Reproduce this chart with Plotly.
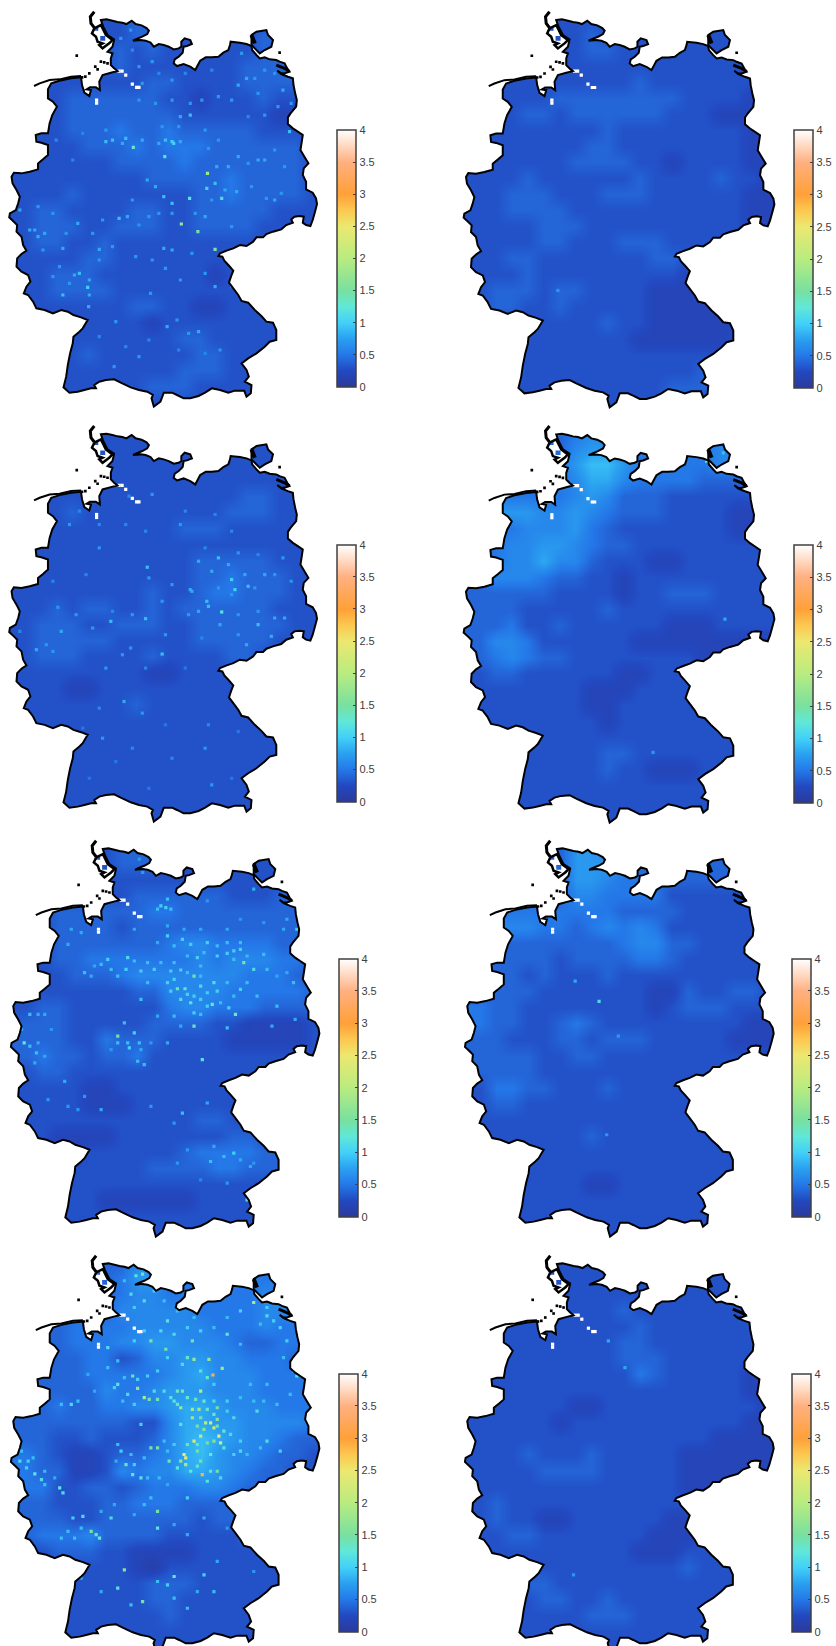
import plotly.graph_objects as go

W, H = 836, 1646
TICK_VALUES = [0, 0.5, 1, 1.5, 2, 2.5, 3, 3.5, 4]
TICK_LABELS = ["0", "0.5", "1", "1.5", "2", "2.5", "3", "3.5", "4"]
COLOR_STOPS = [(0, "#2b3a9a"), (0.0625, "#2348c0"), (0.125, "#2478e8"), (0.1875, "#2aa0f0"),
               (0.25, "#42d0f8"), (0.3125, "#60e8d8"), (0.375, "#78e0a0"), (0.5, "#b8ec80"),
               (0.625, "#ece870"), (0.6875, "#fcc850"), (0.75, "#ffa038"), (0.875, "#ffb080"),
               (0.9375, "#ffd8c0"), (1, "#ffffff")]

# Grid centres, in the map's own units
GRID_X = [27, 75, 123, 171, 219, 267, 315, 363, 411, 459, 507, 555, 603, 651, 699, 747, 795, 843, 891, 939]
GRID_Y = [54, 102, 150, 198, 246, 294, 342, 390, 438, 486, 534, 582, 630, 678, 726, 774, 822, 870, 918, 966,
          1014, 1062, 1110, 1158, 1206]

# Broad field per panel: one hex digit per cell, in tenths
P1 = ["33333333444333333333", "33333333444333334443", "33333334343333334443", "33333334333333344443",
      "33333333344333344443", "33334444443323334333", "33334444444333333222", "33334445445444443333",
      "33333444545554444443", "33333334444544444443", "33333333344444544443", "33334333333344544443",
      "33443333443344444333", "33444334443344443333", "33443343333333333333", "33333443333333333333",
      "33344433333332333333", "33344443333333333333", "33333333443322333333", "33333333323333333333",
      "33333333333443333333", "33333433333344333333", "33333333333444333333", "33333333344433333333",
      "33333333333333333333"]
P2 = ["33333333333333333333", "33333333433333333333", "33333333443333333333", "33333333333333333332",
      "33333333333433333332", "33333344444444333322", "33334434444443332222", "33333333343333333322",
      "33333333443333333322", "33333334444332333322", "33334333333433334332", "33344433344433333322",
      "33344443333333333322", "33333444333333333322", "33333443334443333333", "33344333333344333333",
      "33334333333333222222", "33444344333322222222", "33443343333322222222", "33333333343322222233",
      "33333333333222222333", "33333333333333333333", "33443333333333343333", "33333333333334443333",
      "33333333333333333333"]
P3 = ["33333333333333333333", "33333333333333333333", "33333333333333333333", "33333333333333333333",
      "33333333333333344333", "33334333333333444333", "33333333333444333333", "33333333333333333333",
      "33333333333344444333", "33333333333344544433", "33333333343345544433", "33343443343444444333",
      "33444334443344444433", "33444443333344444333", "33444333343333443333", "33333333322333333333",
      "33332233333333333333", "33333333433333333333", "33333333333333333333", "33333333333333333333",
      "33333333333333333333", "33333333333333333333", "33333333333333333333", "33333333333333333333",
      "33333333333333333333"]
P4 = ["44444445655555555566", "44444446776555556676", "44444457997555556676", "44444456886555544444",
      "44555556764443333333", "44777667654443333223", "44556667543333333223", "44566776544333333333",
      "44566866433322333333", "44666544332333333333", "44444433332334443333", "44443333343333333333",
      "44453343333332223333", "44665333333222222222", "44565443333333322222", "33443333332233333333",
      "33333333222333333333", "33333333223333333333", "33333333323333333333", "33333333333333333333",
      "33333333344333333333", "33333333343322233333", "33333333333333333333", "33333333333333333333",
      "33333333333333333333"]
P5 = ["33333334443333333333", "33333334443333333333", "33333333333333333333", "33333333444444333444",
      "33344444455444444444", "33344443444444444444", "33344444445665555443", "33344555555565666553",
      "33334445666666655543", "33333333446666555554", "33443333335665554444", "44443333344443322223",
      "44443354443333222223", "44544344533333333333", "33443333333333333333", "33333223333333333333",
      "33333222333333333333", "33333333333344333333", "33322223333333443333", "33322333333455554433",
      "33333333344445544433", "33333333333333333433", "33333322222233333333", "33333333333333333333",
      "33333333333333333333"]
P6 = ["44444447755555555555", "44444447776444444444", "44444447765544444444", "44444446655553333333",
      "44555555554444333333", "44666554565653333333", "44444444445664433333", "44444434444554333333",
      "44443433343333333333", "44444333333322433443", "55443333333323444333", "55443345433333333322",
      "44433344344433333222", "44444334433333333333", "44444333333333333333", "33554433343333333333",
      "33443333333333333333", "33333333333333333333", "33333333433333333333", "33333333333333333333",
      "33333333333333333333", "33333333223333333333", "33333333333333333333", "33333333333333333333",
      "33333333333333333333"]
P7 = ["44444444664444444444", "44444445775555555555", "44444445665555556655", "44444446666655556665",
      "44445555666665556555", "44445556677666544555", "44444553466776655544", "44444555556786665555",
      "44444465567776665555", "44454455667887666555", "44444444336887766665", "44433433346898766544",
      "55432234456897665443", "55442236566887654433", "55533443455566544433", "44433344555444444444",
      "44443344444434444444", "44555644443333344444", "33344433222233333333", "33333333213333333333",
      "33333333344433333333", "33333333344333333333", "33333333334333333333", "33333333333333333333",
      "33333333333333333333"]
P8 = ["33333333333333333333", "33333333333333333333", "33333333333333333333", "33333333334333333333",
      "33333333333433333333", "33333333334433333333", "33333333334443333333", "33333333333543333322",
      "33333333333333333322", "33333332233333333332", "33333323333333333322", "33333333333333332222",
      "33334333433333222222", "33333444433333222222", "33333333333333222222", "33433333333333333322",
      "33433223333332233333", "33344333333322233333", "33333333333222333333", "33333333333333433333",
      "33334433333333333333", "33333443343333333333", "33333333444333333333", "33333333333333333333",
      "33333333333333333333"]

# Single bright cells: (x, y, value)
S1 = [(627,520,1.8),(548,672,1.7),(598,695,1.5),(650,748,1.6),(403,442,1.3),(498,470,1.2),(520,425,1.0),(525,430,1.0),(320,425,.9),(340,420,.9),(380,415,.9),(265,862,1.0),(240,820,.9),(225,825,.8),(625,565,1.0),(650,550,.9),(670,595,1.1),(573,595,1.2),(495,590,.9),(520,610,.9),(470,560,.8),(445,540,.8),(360,655,.9),(385,650,.8),(105,690,.8),(90,690,.8),(115,710,.8),(190,885,.9),(270,885,.8),(268,920,.8),(520,750,.8),(495,745,.8),(300,748,.8),(190,745,.8),(600,995,.8),(505,980,.8),(665,1050,.7),(420,1070,.7),(345,1100,.7),(575,345,.9),(545,350,.8),(720,255,.8),(745,235,.8),(770,235,.7),(855,270,.8),(880,310,.7),(800,345,.7),(875,395,.9),(690,500,.8),(780,480,.8),(800,480,.8),(655,500,.8),(630,445,.7),(575,310,.7),(470,310,.7),(420,300,.7),(365,115,.7),(395,90,.7),(420,200,.7),(460,185,.7),(520,240,.7),(730,160,.7),(800,210,.7),(830,600,.8),(805,595,.7),(715,575,.8),(620,650,.8),(700,680,.7),(450,650,.7),(420,675,.7),(235,670,.8),(135,700,.8),(115,620,.7),(60,630,.8),(160,830,.7),(270,840,.8),(350,965,.7),(535,960,.7),(650,860,.8),(545,840,.7),(500,805,.7),(455,880,.7),
      (320,390,.7),(370,430,.8),(430,420,.8),(480,430,.8),(500,420,.9),(545,425,.8),(490,380,.7),(540,380,.7),(620,390,.7),(660,420,.7),(720,470,.8),(750,490,.7),(830,450,.7),(860,500,.7),(850,580,.7),(760,560,.7),(680,570,.8),(640,600,.7),(590,640,.7),(520,640,.7),(480,640,.7),(400,600,.7),(310,660,.7),(280,700,.7),(200,700,.7),(160,640,.7),(130,750,.7),(180,800,.7),(210,850,.7),(300,780,.7),(340,740,.7),(410,770,.7),(460,780,.7),(580,760,.7),(620,820,.7),(700,860,.6),(570,1000,.7),(620,1060,.6),(540,1050,.6),(450,1020,.6),(380,1040,.6),(300,1010,.6),(520,300,.7),(610,300,.7),(660,290,.7),(700,300,.7),(780,280,.7),(830,220,.7),(840,320,.7),(750,350,.6),(640,210,.6),(560,220,.6),(480,220,.6),(400,150,.6),(430,250,.7),(250,400,.6),(220,480,.6),(170,420,.6)]
S2 = [(310,870,.7)]
S3 = [(670,592,1.2),(630,575,.9),(625,560,.9),(700,495,1.0),(710,525,1.0),(750,515,.9),(660,430,.9),(445,458,.9),(575,525,.8),(335,620,.9),(440,612,.9),(185,650,.8),(110,705,.8),(490,718,.9),(375,860,.8),(830,610,.8),(780,630,.9),(745,690,.8),(665,630,.8),(820,665,.8),(545,330,.7),(600,440,.8),(720,415,.7),(800,480,.8),(860,610,.8),(855,430,.7),(240,290,.6),(300,400,.7),(210,330,.7),(175,578,.7),(400,600,.7),(395,700,.7),(320,760,.7),(430,895,.7),(310,970,.7),(620,1000,.7),(520,1030,.6),(640,1110,.7),(450,490,.7),(520,510,.7),(390,245,.6),(460,240,.7),(640,470,.8),(690,450,.8),(740,480,.8),(600,590,.8),(580,530,.8),(720,600,.7),
      (490,560,.7),(340,590,.6),(280,640,.7),(230,600,.7),(160,710,.7),(140,690,.7),(60,650,.6),(370,720,.7),(440,760,.6),(500,660,.7),(570,600,.7),(660,520,.7),(700,540,.7),(770,520,.7),(830,480,.7),(880,500,.7),(780,420,.6),(620,400,.6),(700,350,.6),(650,300,.6),(560,290,.6),(440,350,.6),(380,330,.6),(300,330,.6),(260,480,.6),(160,500,.6),(780,590,.7),(720,660,.7),(610,670,.6),(560,760,.5),(300,880,.6),(250,940,.5),(500,930,.5),(630,930,.6),(720,950,.5),(400,1000,.6),(700,1090,.5),(450,1120,.5),(350,1040,.5),(270,1090,.5)]
S4 = [(755,140,1.4),(810,612,.8),(595,1010,.7),(805,115,.9)]
S5 = [(580,440,1.5),(530,478,1.4),(553,478,1.2),(570,520,1.2),(580,590,1.4),(635,525,1.3),(705,555,1.3),(350,620,1.5),(68,640,1.3),(730,400,1.4),(760,420,1.1),(720,360,1.0),(700,365,1.0),(680,372,1.0),(620,340,1.0),(570,345,1.0),(545,330,1.0),(500,320,1.0),(590,385,1.0),(380,385,1.1),(320,390,1.0),(300,405,.9),(375,420,1.0),(420,425,1.0),(460,420,1.0),(510,425,1.0),(540,422,1.0),(600,440,.9),(640,460,1.1),(500,460,1.0),(510,485,1.0),(560,495,1.0),(580,500,1.0),(620,490,1.0),(650,485,1.0),(720,480,1.0),(770,500,.9),(600,555,.9),(685,535,1.0),(400,610,1.0),(385,655,1.0),(415,640,.9),(370,580,.9),(605,690,1.2),(410,695,.9),(430,705,.9),(105,670,.9),(85,650,.9),(300,840,.8),(140,810,.7),(190,755,.8),(700,970,1.0),(670,980,.9),(630,995,.9),(740,1110,1.1),(545,850,.9),(620,820,.8),(230,840,.7),(480,230,1.0),(495,235,1.0),(85,555,.9),(130,555,.8),(200,345,.8),(250,430,.9),(880,460,.9),(830,530,.9),(890,300,1.0),(885,570,.8),(815,590,.8),(680,595,.9),(750,1010,.8),(530,1000,.7),(425,130,.7),(415,90,.7),(760,180,.8),(620,215,.7),(500,290,.8),(680,300,.8),
      (330,420,.9),(350,440,.9),(280,410,.8),(270,440,.8),(400,395,.9),(440,400,.9),(480,400,.9),(520,400,.9),(560,380,.9),(610,370,.9),(650,380,1.0),(700,390,.9),(740,380,.9),(790,375,.9),(800,420,.9),(830,440,.8),(860,430,.8),(600,410,.9),(560,430,.9),(520,450,1.0),(600,470,1.1),(680,460,.9),(700,500,.9),(740,460,.9),(540,510,1.1),(600,510,1.0),(620,530,1.0),(660,520,.9),(580,550,1.0),(520,560,.9),(470,560,.8),(540,590,.8),(420,510,.9),(440,460,.9),(600,300,.8),(550,300,.8),(720,340,.9),(680,340,.9),(650,350,.9),(520,350,.9),(470,340,.8),(240,310,.8),(210,300,.8),(400,300,.8),(790,280,.7),(850,300,.8),(880,350,.8),(860,270,.8),(720,270,.7),(500,210,.9),(470,240,.9),(510,240,.9),(380,640,.9),(350,640,.9),(330,660,.7),(420,660,.8),(450,640,.7),(500,640,.8),(110,640,.8),(100,700,.8),(130,680,.8),(60,600,.8),(110,555,.8),(150,600,.7),(250,800,.7),(200,830,.7),(450,830,.7),(520,880,.7),(640,950,.8),(720,990,.8),(760,1000,.7),(560,960,.7),(600,1050,.6),(680,1060,.7)]
S6 = [(432,516,1.1),(360,455,.8),(490,620,.7),(455,915,.7)]
S7 = [(637,392,2.9),(605,690,2.9),(550,630,2.5),(555,640,2.4),(655,575,2.5),(580,590,2.3),(630,535,2.2),(640,550,2.1),(660,595,2.2),(615,535,2.0),(600,575,2.0),(540,490,1.8),(575,495,1.8),(595,495,1.8),(580,345,1.8),(625,345,1.7),(665,372,1.8),(545,440,1.6),(600,440,2.0),(430,460,1.9),(445,465,1.5),(470,465,1.4),(575,520,1.8),(530,480,1.4),(555,660,1.9),(540,650,1.7),(505,650,1.4),(650,680,1.5),(650,525,1.6),(760,175,1.9),(395,395,1.5),(410,432,1.7),(450,290,1.5),(495,315,1.4),(575,290,1.5),(680,270,1.3),(425,90,1.4),(405,95,1.2),(390,150,1.1),(430,170,1.1),(500,230,1.2),(470,610,1.5),(450,610,1.5),(375,660,1.4),(420,700,1.2),(395,690,1.2),(100,688,1.2),(120,705,1.1),(55,650,1.1),(80,650,1.0),(175,730,1.2),(185,745,1.1),(270,860,1.5),(285,870,1.4),(295,880,1.3),(245,815,1.1),(215,820,1.0),(470,800,1.5),(370,975,1.6),(350,1030,1.2),(425,1070,1.5),(520,995,1.3),(610,990,1.0),(640,1040,.9),(560,1090,.9),(470,850,1.2),(560,760,1.0),(330,820,1.1),(800,215,1.1),(840,250,1.0),(860,290,1.0),(890,395,1.2),(910,450,1.0),(770,500,1.1),(800,590,1.1),(720,620,1.1),(840,620,1.0),(210,480,1.1),(350,420,1.2),(320,310,1.1),(700,520,1.1),(680,500,1.0),(720,590,1.0),(380,450,1.1),(510,460,1.2),(540,540,1.2),(630,630,1.3),(590,620,1.4),(600,650,1.5),(560,600,1.4),(620,495,1.3),(650,490,1.5),(530,440,1.3),(520,470,1.2),(640,470,1.1),(420,540,1.0),(360,620,1.0),(720,740,.9),(240,1000,.8),(180,880,.9),
      (600,380,1.2),(620,400,1.3),(640,420,1.0),(560,340,1.3),(545,360,1.1),(500,340,1.0),(470,380,1.0),(440,395,1.0),(410,405,1.0),(370,400,.9),(340,430,1.0),(365,470,.9),(400,480,1.0),(460,440,1.1),(490,440,1.1),(560,460,1.3),(585,465,1.4),(610,470,1.3),(680,470,1.0),(720,460,.9),(760,470,.9),(790,470,.9),(830,480,.9),(870,450,.9),(600,520,1.5),(640,510,1.4),(590,545,1.5),(610,555,1.6),(650,545,1.5),(670,560,1.3),(690,570,1.1),(590,600,1.4),(620,595,1.5),(640,590,1.6),(670,610,1.2),(700,630,1.0),(740,630,.9),(780,610,.9),(520,600,1.0),(490,590,.9),(500,620,.9),(530,670,1.2),(570,680,1.3),(590,665,1.2),(630,680,1.2),(620,710,1.2),(660,700,1.1),(430,640,.9),(400,660,1.0),(390,630,.9),(350,600,.9),(345,650,.8),(440,700,.9),(475,700,.9),(500,720,.8),(430,780,.9),(450,760,.9),(400,810,.8),(340,780,.8),(300,800,.8),(200,860,.9),(220,880,.9),(240,850,.9),(130,680,.9),(75,670,1.0),(95,640,.9),(60,620,.9),(130,720,.9),(160,700,.8),(180,480,.9),(230,470,.9),(280,440,.8),(260,390,.8),(320,370,.9),(350,350,.9),(400,290,1.0),(430,260,1.0),(480,260,1.1),(520,270,1.1),(560,250,1.0),(600,260,1.0),(640,250,.9),(680,220,.9),(720,200,1.0),(800,190,1.0),(820,230,1.0),(780,240,.9),(720,300,.9),(850,340,.9),(880,380,1.1),(800,420,.9),(750,420,.9),(420,120,1.0),(370,110,.9),(400,190,1.0),(460,140,1.0),(490,170,.9),(530,200,.9),(580,220,.9),(500,1020,1.0),(520,1060,.9),(590,1040,.8),(470,1010,.9),(390,1080,.9),(300,1040,.8),(650,950,.8),(560,870,.8),(520,840,.8),(610,820,.8),(680,850,.7),(760,980,.7)]
S8 = [(355,990,.7),(510,370,.8),(460,290,.8)]
WHITE_CELLS = [(360,213),(369,213),(380,225),(400,252),(413,262),(420,262),(292,300),(292,309)]

# Outlines, in the map's own units
MAINLAND = [(305,60),(322,58),(340,62),(355,66),(370,68),(382,72),(398,62),(410,72),(428,76),(443,84),(450,92),(445,102),(430,110),(410,118),(402,122),(425,120),(440,122),(455,128),(465,140),(480,132),(495,135),(510,140),(525,148),(540,145),(548,140),(548,125),(558,115),(575,120),(580,132),(565,138),(555,140),(552,158),(540,170),(528,178),(525,190),(535,198),(555,192),(575,200),(590,210),(598,195),(605,182),(622,172),(640,172),(660,170),(675,158),(690,150),(695,135),(697,125),(725,128),(745,132),(760,138),(762,150),(775,165),(785,175),(800,172),(815,178),(835,180),(845,185),(860,190),(868,205),(875,215),(860,220),(850,220),(838,212),(850,222),(870,230),(885,235),(887,255),(892,280),(897,300),(895,320),(878,340),(870,352),(870,372),(885,385),(900,395),(915,405),(912,425),(908,450),(920,470),(932,490),(918,505),(915,525),(925,545),(925,568),(945,578),(955,595),(958,612),(952,635),(945,660),(938,678),(925,675),(915,668),(918,650),(905,648),(890,650),(880,658),(885,668),(865,675),(850,688),(825,695),(805,702),(795,712),(775,712),(765,725),(745,738),(725,735),(705,745),(685,752),(665,760),(660,768),(672,770),(678,782),(690,795),(705,812),(698,830),(692,848),(705,865),(720,885),(730,903),(750,908),(770,930),(790,948),(805,965),(825,968),(835,990),(835,1020),(815,1025),(800,1040),(775,1060),(750,1075),(730,1090),(745,1110),(752,1130),(740,1145),(760,1155),(758,1180),(745,1190),(738,1172),(710,1172),(690,1178),(665,1170),(640,1165),(620,1178),(600,1188),(575,1195),(555,1195),(535,1185),(520,1178),(495,1178),(485,1205),(465,1220),(458,1195),(462,1185),(445,1175),(420,1170),(395,1162),(365,1148),(345,1138),(320,1140),(300,1145),(285,1155),(290,1165),(275,1165),(255,1170),(235,1175),(210,1178),(192,1162),(200,1130),(205,1095),(212,1060),(220,1030),(222,1010),(240,995),(250,985),(265,960),(245,952),(222,945),(205,935),(185,930),(160,940),(135,930),(110,925),(100,905),(85,885),(72,880),(80,860),(92,845),(85,825),(65,815),(50,800),(52,775),(65,762),(80,752),(70,735),(65,710),(50,695),(52,675),(42,665),(28,652),(30,640),(48,630),(55,610),(60,590),(50,570),(38,550),(35,530),(42,518),(65,520),(90,515),(115,508),(115,490),(130,478),(145,465),(145,435),(125,428),(110,425),(108,405),(125,400),(145,400),(150,370),(158,345),(172,320),(160,305),(145,295),(145,268),(155,250),(180,242),(215,235),(245,232),(248,255),(255,278),(270,288),(275,270),(262,268),(272,262),(290,262),(302,270),(300,245),(310,225),(335,218),(355,213),(345,205),(335,195),(335,175),(340,160),(325,155),(340,140),(345,118),(325,105),(312,80)]
RUEGEN = [(760,135),(760,105),(775,95),(805,90),(810,105),(825,120),(820,140),(800,150),(785,160),(770,145)]
BLOB_A = [(283,85),(297,82),(297,92),(283,92)]
BLOB_B = [(303,108),(318,108),(318,122),(303,122)]
SYLT = [(285,35),(273,50),(275,70),(285,83)]
HALLIG_RING = [(285,85),(305,75),(320,105),(340,120),(330,130),(310,145),(300,135),(310,130),(295,125),(290,110),(278,100),(285,85)]
RUEGEN_WEST = [(760,105),(770,130)]
USEDOM = [(835,195),(860,205),(875,215)]
FRISIA = [(103,258),(120,250),(150,240),(180,238),(215,230),(245,228)]
DOTS = [(232,167),(305,185),(315,187),(325,190),(288,200),(295,208),(270,220),(258,230),(248,232),(845,158)]

# Panel placement on the page: left, right, top, bottom of the outline
BOXES = [(8.3,319.3,11.7,406), (466,780,11.7,406.7), (8.3,319.3,426,821), (466,780,426,822),
         (10,321.7,840.7,1236), (467.3,779.3,840.7,1236), (10,321.7,1255.7,1651), (467.3,779.3,1255.7,1651)]
# Colour bars: left, right, top, bottom
BARS = [(339,358,130,387), (800,819,130,388), (339,358,544.3,801.7), (800,819,545,803),
        (341,360,959,1216.7), (798,817,959,1216.7), (341,360,1374,1631.7), (798,817,1374,1631.7)]
FIELDS = [P1, P2, P3, P4, P5, P6, P7, P8]
SPOTS = [S1, S2, S3, S4, S5, S6, S7, S8]


def subpath(points, close=True):
    text = "M" + " L".join(f"{x},{y}" for x, y in points)
    return text + (" Z" if close else "")


fig = go.Figure()
shapes = []
mask = "M-100,-100 L1200,-100 L1200,1400 L-100,1400 Z " + " ".join(subpath(p) for p in (MAINLAND, RUEGEN, BLOB_A, BLOB_B))
for i in range(8):
    n = i + 1
    sfx = "" if n == 1 else str(n)
    L, R, T, B = BOXES[i]
    sx, sy = (R - L) / (958 - 25), (B - T) / (1218 - 35)
    xstart = max(0, 25 - L / sx)
    px_left = L - (25 - xstart) * sx
    px_right = L + (1000 - 25) * sx
    ystart = 22
    px_top = T - (35 - ystart) * sy
    yend = min(1240, ystart + (H - px_top) / sy)
    px_bot = px_top + (yend - ystart) * sy
    fig.layout[f"xaxis{sfx}"] = dict(domain=[px_left / W, px_right / W], range=[xstart, 1000], visible=False,
                                     anchor=f"y{sfx}")
    fig.layout[f"yaxis{sfx}"] = dict(domain=[1 - px_bot / H, 1 - px_top / H], range=[yend, ystart], visible=False,
                                     anchor=f"x{sfx}")
    bl, br, bt, bb = BARS[i]
    fig.layout[f"coloraxis{sfx}"] = dict(
        cmin=0, cmax=4, colorscale=COLOR_STOPS,
        colorbar=dict(x=bl / W, xanchor="left", y=1 - bb / H, yanchor="bottom", xpad=0, ypad=0,
                      thickness=br - bl, thicknessmode="pixels", len=bb - bt, lenmode="pixels",
                      tickmode="array", tickvals=TICK_VALUES, ticktext=TICK_LABELS,
                      ticks="inside", ticklen=3, tickcolor="#404040", tickwidth=1,
                      outlinecolor="#404040", outlinewidth=1.5,
                      tickfont=dict(family="Liberation Sans, Arial, sans-serif", size=11, color="#404040")))
    z = [[int(ch, 16) / 10 for ch in row] for row in FIELDS[i]]
    fig.add_trace(go.Heatmap(x=GRID_X, y=GRID_Y, z=z, zsmooth="best", coloraxis=f"coloraxis{sfx}",
                             xaxis=f"x{sfx}", yaxis=f"y{sfx}", hoverinfo="skip"))
    xs = [s[0] for s in SPOTS[i]] + [c[0] for c in WHITE_CELLS]
    ys = [s[1] for s in SPOTS[i]] + [c[1] for c in WHITE_CELLS]
    vs = [s[2] for s in SPOTS[i]] + [4 for c in WHITE_CELLS]
    fig.add_trace(go.Scatter(x=xs, y=ys, mode="markers", xaxis=f"x{sfx}", yaxis=f"y{sfx}", hoverinfo="skip",
                             showlegend=False,
                             marker=dict(symbol="square", size=3.2, color=vs, coloraxis=f"coloraxis{sfx}",
                                         line=dict(width=0))))
    ref = dict(xref=f"x{sfx}", yref=f"y{sfx}", layer="above")
    shapes.append(dict(type="path", path=mask, fillcolor="white", fillrule="evenodd", line=dict(width=0), **ref))
    for pts, closed, lw in ((MAINLAND, True, 2), (RUEGEN, True, 2), (SYLT, False, 3), (HALLIG_RING, False, 2.5),
                            (RUEGEN_WEST, False, 4), (USEDOM, False, 3), (FRISIA, False, 2)):
        shapes.append(dict(type="path", path=subpath(pts, closed), line=dict(color="black", width=lw), **ref))
    for dx, dy in DOTS:
        shapes.append(dict(type="path", path=subpath([(dx - 4, dy - 4), (dx + 4, dy - 4), (dx + 4, dy + 4), (dx - 4, dy + 4)]),
                           fillcolor="black", line=dict(width=0), **ref))

fig.update_layout(width=W, height=H, margin=dict(l=0, r=0, t=0, b=0), paper_bgcolor="white",
                  plot_bgcolor="white", showlegend=False, shapes=shapes)
fig.write_html("out.html", config={"displayModeBar": False},
               post_script="document.body.style.margin='0';document.body.style.overflow='hidden';")
